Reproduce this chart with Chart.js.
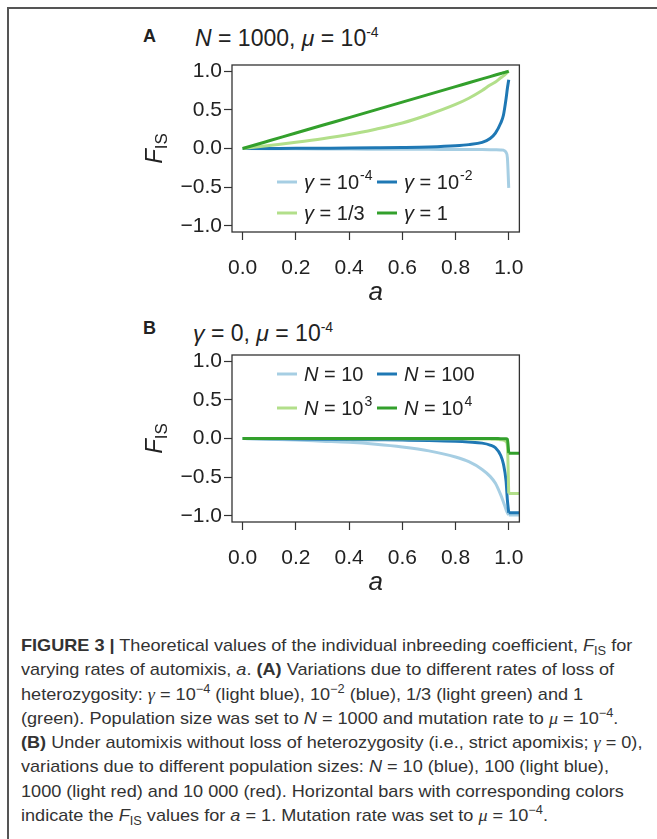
<!DOCTYPE html>
<html lang="en">
<head>
<meta charset="UTF-8">
<title>Figure 3</title>
<style>
  html, body { margin: 0; padding: 0; background: #fff; overflow: hidden; }
  body { width: 657px; height: 839px; position: relative; font-family: "Liberation Sans", Arial, sans-serif; color: #222; }
  .frame { position: absolute; left: 7px; top: 7px; width: 700px; height: 900px; border-left: 2px solid #555; border-top: 2px solid #555; }
  .panel-letter { position: absolute; font-weight: bold; font-size: 18px; line-height: 18px; }
  .panel-title { position: absolute; font-size: 23px; line-height: 23px; white-space: nowrap; }
  .sup { position: relative; top: -9px; font-size: 14px; }
  canvas { position: absolute; }
  .caption { position: absolute; left: 21px; top: 634px; font-size: 17px; line-height: 24.3px; white-space: nowrap; color: #333;
             transform: scaleX(1.065); transform-origin: left top; }
  .caption .m { font-family: "Liberation Serif", serif; font-style: italic; }
  .caption sup { font-size: 12px; line-height: 0; }
  .caption sub { font-size: 12px; line-height: 0; }
</style>
</head>
<body>
<div class="frame"></div>

<div class="panel-letter" style="left:143px; top:27px;">A</div>
<div class="panel-title" style="left:195px; top:27px;"><i>N</i> = 1000, <i>μ</i> = 10<span class="sup">-4</span></div>
<canvas id="chartA" width="420" height="265" style="left:120px; top:50px;"></canvas>

<div class="panel-letter" style="left:143px; top:319px;">B</div>
<div class="panel-title" style="left:193px; top:322px;"><i>γ</i> = 0, <i>μ</i> = 10<span class="sup">-4</span></div>
<canvas id="chartB" width="420" height="265" style="left:120px; top:340px;"></canvas>

<div class="caption">
<b>FIGURE 3 |</b> Theoretical values of the individual inbreeding coefficient, <i>F</i><sub>IS</sub> for<br>
varying rates of automixis, <i>a</i>. <b>(A)</b> Variations due to different rates of loss of<br>
heterozygosity: <span class="m">γ</span> = 10<sup>−4</sup> (light blue), 10<sup>−2</sup> (blue), 1/3 (light green) and 1<br>
(green). Population size was set to <i>N</i> = 1000 and mutation rate to <span class="m">μ</span> = 10<sup>−4</sup>.<br>
<b>(B)</b> Under automixis without loss of heterozygosity (i.e., strict apomixis; <span class="m">γ</span> = 0),<br>
variations due to different population sizes: <i>N</i> = 10 (blue), 100 (light blue),<br>
1000 (light red) and 10 000 (red). Horizontal bars with corresponding colors<br>
indicate the <i>F</i><sub>IS</sub> values for <i>a</i> = 1. Mutation rate was set to <span class="m">μ</span> = 10<sup>−4</sup>.
</div>

<script src="https://cdn.jsdelivr.net/npm/chart.js"></script>
<script>
// rate of automixis, shared by every curve
const aGrid = [0, 0.1, 0.2, 0.3, 0.4, 0.5, 0.6, 0.7, 0.8, 0.85, 0.9, 0.93, 0.95, 0.97, 0.98, 0.99, 0.995, 1.0];

// panel A: N = 1000, different gamma
const labelsA = ['γ = 10^-4', 'γ = 10^-2', 'γ = 1/3', 'γ = 1'];
const fisGammaE4 = [0, -0.002, -0.004, -0.006, -0.008, -0.009, -0.01, -0.011, -0.012, -0.013, -0.014, -0.015, -0.016, -0.018, -0.022, -0.05, -0.12, -0.51];
const fisGammaE2 = [0, 0.001, 0.002, 0.004, 0.006, 0.009, 0.013, 0.02, 0.035, 0.05, 0.08, 0.13, 0.2, 0.33, 0.43, 0.645, 0.78, 0.89];
const fisGammaThird = [0, 0.04, 0.08, 0.125, 0.18, 0.25, 0.33, 0.44, 0.57, 0.65, 0.75, 0.82, 0.86, 0.915, 0.94, 0.97, 0.985, 1.0];
const fisGammaOne = [0, 0.1, 0.2, 0.3, 0.4, 0.5, 0.6, 0.7, 0.8, 0.85, 0.9, 0.93, 0.95, 0.97, 0.98, 0.99, 0.995, 1.0];

// panel B: gamma = 0, different N
const labelsB = ['N = 10', 'N = 100', 'N = 10^3', 'N = 10^4'];
const fisN10 = [0, -0.01, -0.02, -0.035, -0.05, -0.075, -0.11, -0.16, -0.24, -0.3, -0.4, -0.49, -0.58, -0.73, -0.82, -0.92, -0.96, -0.99];
const fisN100 = [0, -0.003, -0.006, -0.009, -0.012, -0.016, -0.02, -0.025, -0.035, -0.045, -0.06, -0.085, -0.12, -0.22, -0.33, -0.55, -0.8, -0.96];
const fisN1000 = [0, 0, -0.001, -0.001, -0.002, -0.002, -0.003, -0.003, -0.004, -0.005, -0.006, -0.008, -0.01, -0.015, -0.02, -0.04, -0.1, -0.71];
const fisN10000 = [0, 0, 0, 0, 0, 0, 0, 0, -0.001, -0.001, -0.001, -0.001, -0.001, -0.002, -0.002, -0.004, -0.01, -0.19];
// horizontal bars at a = 1 (panel B)
const barRange = [1.0, 1.04];

const xTicks = [0, 0.2, 0.4, 0.6, 0.8, 1.0];
const yTicks = [-1, -0.5, 0, 0.5, 1];
const colors = ['#a6cee3', '#1f78b4', '#b2df8a', '#33a02c'];

const FONT = '"Liberation Sans", Arial, sans-serif';

function drawRich(ctx, text, x, y) {
  const parts = text.split('^');
  const main = parts[0];
  ctx.fillStyle = '#222';
  ctx.textAlign = 'left';
  ctx.textBaseline = 'alphabetic';
  ctx.font = 'italic 20px ' + FONT;
  ctx.fillText(main[0], x, y);
  x += ctx.measureText(main[0]).width;
  ctx.font = '20px ' + FONT;
  ctx.fillText(main.slice(1), x, y);
  x += ctx.measureText(main.slice(1)).width;
  if (parts[1]) {
    ctx.font = '14px ' + FONT;
    ctx.fillText(parts[1], x + 1, y - 9);
  }
}

const figureExtras = {
  id: 'figureExtras',
  afterDatasetsDraw(chart, args, opts) {
    const ctx = chart.ctx, area = chart.chartArea;
    ctx.save();
    // box round the plot
    ctx.strokeStyle = '#333';
    ctx.lineWidth = 1.3;
    ctx.strokeRect(area.left, area.top, area.right - area.left, area.bottom - area.top);

    // legend, 2 x 2 inside the plot
    opts.labels.forEach((label, i) => {
      const col = i % 2, row = Math.floor(i / 2);
      const lx = area.left + 45 + col * 100;
      const ly = area.top + opts.legendRows[row];
      ctx.strokeStyle = colors[i];
      ctx.lineWidth = 3;
      ctx.beginPath();
      ctx.moveTo(lx, ly);
      ctx.lineTo(lx + 20, ly);
      ctx.stroke();
      drawRich(ctx, label, lx + 27, ly + 7);
    });

    // x title
    ctx.fillStyle = '#222';
    ctx.font = 'italic 26px ' + FONT;
    ctx.textAlign = 'center';
    ctx.textBaseline = 'alphabetic';
    ctx.fillText('a', (area.left + area.right) / 2, area.bottom + 68);

    // y title F_IS
    ctx.translate(area.left - 70, (area.top + area.bottom) / 2);
    ctx.rotate(-Math.PI / 2);
    ctx.textAlign = 'left';
    ctx.font = 'italic 24px ' + FONT;
    const fw = ctx.measureText('F').width;
    ctx.font = '17px ' + FONT;
    const sw = ctx.measureText('IS').width;
    const x0 = -(fw + sw) / 2;
    ctx.font = 'italic 24px ' + FONT;
    ctx.fillText('F', x0, 0);
    ctx.font = '17px ' + FONT;
    ctx.fillText('IS', x0 + fw, 5);
    ctx.restore();
  }
};

function lineSet(ys, i, xs) {
  return {
    label: '',
    data: (xs || aGrid).map((x, k) => ({ x: x, y: ys[k] })),
    borderColor: colors[i],
    borderWidth: 3,
    pointRadius: 0,
    fill: false,
    cubicInterpolationMode: 'monotone',
    order: 4 - i
  };
}

function makeChart(id, series, labels, legendRows, bars) {
  const datasets = series.map((ys, i) => lineSet(ys, i));
  if (bars) {
    series.forEach((ys, i) => {
      const v = ys[ys.length - 1];
      datasets.push(lineSet(barRange.map(() => v), i, barRange));
    });
  }
  return new Chart(document.getElementById(id), {
    type: 'line',
    data: { datasets: datasets },
    plugins: [figureExtras],
    options: {
      responsive: false,
      animation: false,
      layout: { padding: { left: 0, top: 15, right: 18, bottom: 0 } },
      plugins: {
        legend: { display: false },
        tooltip: { enabled: false },
        figureExtras: { labels: labels, legendRows: legendRows }
      },
      scales: {
        x: {
          type: 'linear',
          min: -0.04,
          max: 1.04,
          afterBuildTicks: s => { s.ticks = xTicks.map(v => ({ value: v })); },
          afterFit: s => { s.height = 83; },
          grid: { drawOnChartArea: false, drawTicks: true, tickLength: 8, tickColor: '#333', tickWidth: 1.2 },
          border: { display: false },
          ticks: {
            padding: 16,
            color: '#222',
            font: { size: 21, family: FONT },
            maxRotation: 0,
            callback: v => v.toFixed(1)
          }
        },
        y: {
          min: -1.08,
          max: 1.08,
          afterBuildTicks: s => { s.ticks = yTicks.map(v => ({ value: v })); },
          afterFit: s => { s.width = 112; },
          grid: { drawOnChartArea: false, drawTicks: true, tickLength: 8, tickColor: '#333', tickWidth: 1.2 },
          border: { display: false },
          ticks: {
            padding: 2,
            color: '#222',
            font: { size: 21, family: FONT },
            callback: v => (v < 0 ? '−' : '') + Math.abs(v).toFixed(1)
          }
        }
      }
    }
  });
}

makeChart('chartA', [fisGammaE4, fisGammaE2, fisGammaThird, fisGammaOne], labelsA, [117, 148], false);
makeChart('chartB', [fisN10, fisN100, fisN1000, fisN10000], labelsB, [19, 53], true);
</script>
</body>
</html>
